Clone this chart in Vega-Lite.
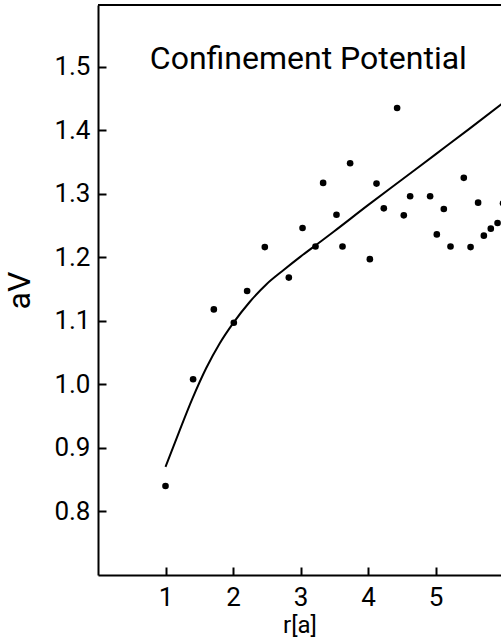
{
  "$schema": "https://vega.github.io/schema/vega-lite/v6.json",
  "width": 403,
  "height": 570,
  "autosize": {"type": "none"},
  "padding": {"left": 98, "top": 5, "right": 0, "bottom": 63},
  "background": "white",
  "config": {
    "view": {"stroke": null},
    "font": "Roboto",
    "axis": {
      "domainColor": "black",
      "domainWidth": 2,
      "tickColor": "black",
      "tickWidth": 2,
      "tickSize": -8,
      "grid": false,
      "labelColor": "black",
      "labelFont": "Roboto",
      "labelFontSize": 26,
      "labelFontWeight": 400,
      "titleColor": "black",
      "titleFont": "Roboto",
      "titleFontSize": 32,
      "titleFontWeight": 400
    }
  },
  "datasets": {
    "points": [
      {"r": 1.0, "aV": 0.840},
      {"r": 1.409, "aV": 1.008},
      {"r": 1.716, "aV": 1.118},
      {"r": 2.012, "aV": 1.097},
      {"r": 2.209, "aV": 1.147},
      {"r": 2.471, "aV": 1.216},
      {"r": 2.827, "aV": 1.168},
      {"r": 3.03, "aV": 1.246},
      {"r": 3.222, "aV": 1.217},
      {"r": 3.335, "aV": 1.317},
      {"r": 3.533, "aV": 1.267},
      {"r": 3.622, "aV": 1.217},
      {"r": 3.735, "aV": 1.348},
      {"r": 4.027, "aV": 1.197},
      {"r": 4.126, "aV": 1.316},
      {"r": 4.234, "aV": 1.277},
      {"r": 4.431, "aV": 1.435},
      {"r": 4.53, "aV": 1.266},
      {"r": 4.624, "aV": 1.296},
      {"r": 4.92, "aV": 1.296},
      {"r": 5.019, "aV": 1.236},
      {"r": 5.123, "aV": 1.276},
      {"r": 5.222, "aV": 1.217},
      {"r": 5.419, "aV": 1.325},
      {"r": 5.519, "aV": 1.216},
      {"r": 5.631, "aV": 1.286},
      {"r": 5.716, "aV": 1.234},
      {"r": 5.819, "aV": 1.245},
      {"r": 5.919, "aV": 1.254},
      {"r": 6.0, "aV": 1.285}
    ],
    "curve": [
      {"r": 1.0, "aV": 0.870},
      {"r": 1.2, "aV": 0.925},
      {"r": 1.4, "aV": 0.978},
      {"r": 1.6, "aV": 1.025},
      {"r": 1.8, "aV": 1.064},
      {"r": 2.0, "aV": 1.096},
      {"r": 2.25, "aV": 1.130},
      {"r": 2.5, "aV": 1.158},
      {"r": 2.75, "aV": 1.180},
      {"r": 3.0, "aV": 1.201},
      {"r": 3.25, "aV": 1.221},
      {"r": 3.5, "aV": 1.241},
      {"r": 4.0, "aV": 1.282},
      {"r": 4.5, "aV": 1.322},
      {"r": 5.0, "aV": 1.362},
      {"r": 5.5, "aV": 1.402},
      {"r": 6.0, "aV": 1.443}
    ],
    "label": [
      {"r": 3.116, "aV": 1.496, "text": "Confinement Potential"}
    ],
    "frame": [
      {"top": 1.597}
    ]
  },
  "layer": [
    {
      "data": {"name": "curve"},
      "mark": {"type": "line", "color": "black", "strokeWidth": 2, "interpolate": "monotone", "clip": true},
      "encoding": {
        "x": {
          "field": "r", "type": "quantitative",
          "scale": {"domain": [0, 5.97], "nice": false, "zero": false},
          "axis": {"title": "r[a]", "values": [1, 2, 3, 4, 5], "format": "d", "labelPadding": 17, "titlePadding": 3, "titleFontSize": 24}
        },
        "y": {
          "field": "aV", "type": "quantitative",
          "scale": {"domain": [0.7, 1.597], "nice": false, "zero": false},
          "axis": {"title": "aV", "values": [0.8, 0.9, 1.0, 1.1, 1.2, 1.3, 1.4, 1.5], "format": ".1f", "labelPadding": 16, "titlePadding": 17}
        }
      }
    },
    {
      "data": {"name": "points"},
      "mark": {"type": "circle", "color": "black", "opacity": 1, "size": 44, "clip": true},
      "encoding": {
        "x": {"field": "r", "type": "quantitative"},
        "y": {"field": "aV", "type": "quantitative"}
      }
    },
    {
      "data": {"name": "frame"},
      "mark": {"type": "rule", "color": "black", "strokeWidth": 2},
      "encoding": {
        "y": {"field": "top", "type": "quantitative"}
      }
    },
    {
      "data": {"name": "label"},
      "mark": {"type": "text", "color": "black", "font": "Roboto", "fontSize": 32, "fontWeight": 400, "align": "center", "baseline": "alphabetic"},
      "encoding": {
        "x": {"field": "r", "type": "quantitative"},
        "y": {"field": "aV", "type": "quantitative"},
        "text": {"field": "text"}
      }
    }
  ]
}
